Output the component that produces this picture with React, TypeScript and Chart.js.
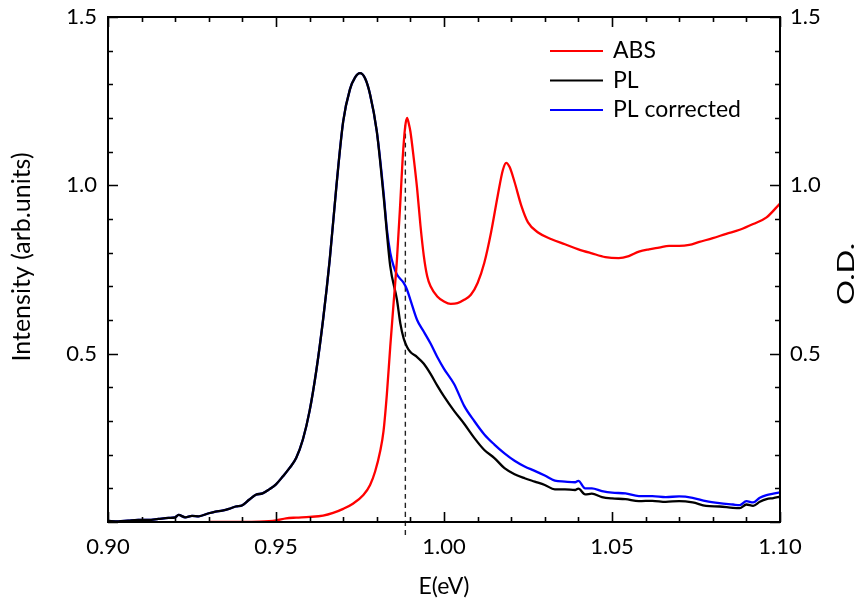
import React, { useEffect, useRef } from "react";
import { Chart, registerables } from "chart.js";

Chart.register(...registerables);

const FONT = "Lato, 'Open Sans', 'DejaVu Sans', sans-serif";

// ---- data ----
const plX = [
  0.900, 0.903, 0.906, 0.909, 0.912, 0.915, 0.918, 0.920, 0.921, 0.923, 0.925, 0.927, 0.930, 0.932,
  0.934, 0.936, 0.938, 0.940, 0.942, 0.944, 0.946, 0.948, 0.950, 0.952, 0.954, 0.956, 0.958, 0.960,
  0.962, 0.964, 0.966, 0.968, 0.970, 0.972, 0.9735, 0.975, 0.9765, 0.978, 0.980, 0.982, 0.984, 0.986,
  0.987, 0.988, 0.989, 0.990, 0.992, 0.994, 0.996, 0.998, 1.000, 1.003, 1.006, 1.009, 1.012, 1.015,
  1.018, 1.021, 1.024, 1.027, 1.030, 1.033, 1.036, 1.039, 1.040, 1.042, 1.044, 1.047, 1.050, 1.054,
  1.058, 1.062, 1.066, 1.070, 1.074, 1.078, 1.082, 1.086, 1.088, 1.090, 1.092, 1.094, 1.096, 1.098, 1.100,
];
const plY = [
  0.003, 0.002, 0.004, 0.006, 0.006, 0.009, 0.012, 0.014, 0.021, 0.014, 0.018, 0.017, 0.026, 0.031,
  0.034, 0.039, 0.046, 0.050, 0.066, 0.081, 0.085, 0.097, 0.112, 0.135, 0.160, 0.190, 0.245, 0.330,
  0.450, 0.600, 0.780, 1.000, 1.190, 1.285, 1.320, 1.333, 1.318, 1.270, 1.160, 0.970, 0.760, 0.660,
  0.590, 0.545, 0.520, 0.505, 0.490, 0.470, 0.440, 0.405, 0.373, 0.330, 0.292, 0.250, 0.214, 0.190,
  0.160, 0.142, 0.130, 0.120, 0.110, 0.097, 0.097, 0.095, 0.099, 0.082, 0.084, 0.074, 0.070, 0.068,
  0.062, 0.063, 0.060, 0.062, 0.058, 0.048, 0.046, 0.042, 0.041, 0.052, 0.048, 0.060, 0.068, 0.071, 0.075,
];

const plCorrX = [
  0.900, 0.903, 0.906, 0.909, 0.912, 0.915, 0.918, 0.920, 0.921, 0.923, 0.925, 0.927, 0.930, 0.932,
  0.934, 0.936, 0.938, 0.940, 0.942, 0.944, 0.946, 0.948, 0.950, 0.952, 0.954, 0.956, 0.958, 0.960,
  0.962, 0.964, 0.966, 0.968, 0.970, 0.972, 0.9735, 0.975, 0.9765, 0.978, 0.980, 0.982, 0.983, 0.984,
  0.985, 0.986, 0.988, 0.989, 0.990, 0.992, 0.994, 0.996, 0.998, 1.000, 1.003, 1.006, 1.009, 1.012,
  1.015, 1.018, 1.021, 1.024, 1.027, 1.030, 1.033, 1.036, 1.039, 1.040, 1.042, 1.044, 1.047, 1.050,
  1.054, 1.058, 1.062, 1.066, 1.070, 1.074, 1.078, 1.082, 1.086, 1.088, 1.090, 1.092, 1.094, 1.096,
  1.098, 1.100,
];
const plCorrY = [
  0.003, 0.002, 0.004, 0.006, 0.006, 0.009, 0.012, 0.014, 0.021, 0.014, 0.018, 0.017, 0.026, 0.031,
  0.034, 0.039, 0.046, 0.050, 0.066, 0.081, 0.085, 0.097, 0.112, 0.135, 0.160, 0.190, 0.245, 0.330,
  0.450, 0.600, 0.780, 1.000, 1.190, 1.285, 1.320, 1.333, 1.318, 1.270, 1.160, 0.980, 0.870, 0.800,
  0.760, 0.735, 0.710, 0.690, 0.660, 0.600, 0.565, 0.530, 0.490, 0.455, 0.410, 0.345, 0.300, 0.260,
  0.230, 0.204, 0.182, 0.165, 0.152, 0.138, 0.123, 0.120, 0.118, 0.122, 0.100, 0.100, 0.092, 0.087,
  0.085, 0.077, 0.077, 0.074, 0.076, 0.072, 0.062, 0.056, 0.052, 0.050, 0.062, 0.058, 0.072, 0.080,
  0.084, 0.088,
];

const absX = [
  0.930, 0.935, 0.940, 0.945, 0.950, 0.953, 0.956, 0.960, 0.964, 0.967, 0.970, 0.973, 0.976, 0.978,
  0.9795, 0.981, 0.982, 0.983, 0.984, 0.985, 0.986, 0.987, 0.9877, 0.9884, 0.989, 0.9896, 0.990,
  0.991, 0.992, 0.993, 0.994, 0.995, 0.996, 0.998, 1.000, 1.002, 1.004, 1.006, 1.008, 1.010, 1.012,
  1.014, 1.016, 1.0175, 1.0185, 1.0195, 1.021, 1.023, 1.025, 1.028, 1.032, 1.036, 1.040, 1.044,
  1.048, 1.052, 1.055, 1.058, 1.061, 1.064, 1.067, 1.070, 1.073, 1.076, 1.080, 1.084, 1.088, 1.092,
  1.096, 1.100,
];
const absY = [
  0.000, 0.000, 0.000, 0.001, 0.005, 0.011, 0.013, 0.015, 0.019, 0.027, 0.039, 0.055, 0.080, 0.110,
  0.150, 0.210, 0.270, 0.380, 0.520, 0.650, 0.780, 0.950, 1.080, 1.170, 1.200, 1.180, 1.160,
  1.080, 0.990, 0.880, 0.790, 0.730, 0.700, 0.670, 0.655, 0.648, 0.650, 0.660, 0.675, 0.710, 0.770,
  0.860, 0.970, 1.045, 1.067, 1.055, 1.010, 0.940, 0.890, 0.860, 0.840, 0.825, 0.810, 0.798,
  0.787, 0.784, 0.790, 0.803, 0.810, 0.815, 0.820, 0.820, 0.823, 0.832, 0.843, 0.856, 0.868, 0.885,
  0.905, 0.946,
];

// dashed marker line
const markerEnergy = 0.9885;
const markerTop = 1.18;
const markerBottom = -0.05;

// axes
const xMin = 0.9;
const xMax = 1.1;
const xStep = 0.05;
const yMin = 0;
const yMax = 1.5;
const yStep = 0.5;
const xTickLabels = ["0.90", "0.95", "1.00", "1.05", "1.10"];
const yTickLabels = ["", "0.5", "1.0", "1.5"];

const seriesLabels = ["ABS", "PL", "PL corrected"];
const seriesColors = ["#ff0000", "#000000", "#0000ff"];

const xTitle = "E(eV)";
const yTitle = "Intensity (arb.units)";
const y2Title = "O.D.";

const pts = (xs: number[], ys: number[]) => xs.map((x, i) => ({ x, y: ys[i] }));

export default function App() {
  const ref = useRef<HTMLCanvasElement>(null);

  useEffect(() => {
    document.body.style.margin = "0";
    const canvas = ref.current;
    if (!canvas) return;

    const framePlugin = {
      id: "frame",
      afterDraw(chart: any) {
        const { ctx, chartArea } = chart;
        const { left, right, top, bottom } = chartArea;
        const xs = chart.scales.x;
        const ys = chart.scales.y;
        ctx.save();
        ctx.strokeStyle = "#000";
        ctx.lineWidth = 1.6;
        for (let i = 0; i <= 20; i++) {
          const v = xMin + i * 0.01;
          const px = Math.round(xs.getPixelForValue(v)) + 0.5;
          const len = i % 5 === 0 ? 10 : 5;
          ctx.beginPath();
          ctx.moveTo(px, bottom);
          ctx.lineTo(px, bottom - len);
          ctx.moveTo(px, top);
          ctx.lineTo(px, top + len);
          ctx.stroke();
        }
        for (let i = 0; i <= 15; i++) {
          const v = yMin + i * 0.1;
          const py = Math.round(ys.getPixelForValue(v)) + 0.5;
          const len = i % 5 === 0 ? 10 : 5;
          ctx.beginPath();
          ctx.moveTo(left, py);
          ctx.lineTo(left + len, py);
          ctx.moveTo(right, py);
          ctx.lineTo(right - len, py);
          ctx.stroke();
        }
        ctx.lineWidth = 2;
        ctx.strokeRect(left, top, right - left, bottom - top);

        // vertical titles, both reading bottom to top
        ctx.fillStyle = "#000";
        ctx.textAlign = "center";
        ctx.textBaseline = "middle";
        ctx.font = `25px ${FONT}`;
        ctx.translate(22, 257);
        ctx.rotate(-Math.PI / 2);
        ctx.fillText(yTitle, 0, 0);
        ctx.setTransform(1, 0, 0, 1, 0, 0);

        ctx.font = `24px ${FONT}`;
        ctx.translate(846, 274);
        ctx.rotate(-Math.PI / 2);
        ctx.scale(1.3, 1);
        ctx.fillText(y2Title, 0, 0);
        ctx.setTransform(1, 0, 0, 1, 0, 0);

        // legend
        const items = chart.data.datasets.filter((d: any) => d.label);
        ctx.font = `23px ${FONT}`;
        ctx.textAlign = "left";
        ctx.textBaseline = "middle";
        items.forEach((d: any, i: number) => {
          const y = 51 + i * 29.5;
          ctx.strokeStyle = d.borderColor;
          ctx.lineWidth = 2;
          ctx.beginPath();
          ctx.moveTo(550, y);
          ctx.lineTo(603, y);
          ctx.stroke();
          ctx.fillStyle = "#000";
          ctx.fillText(d.label, 613, y);
        });
        ctx.restore();
      },
    };

    const noPad = (s: any) => {
      s.paddingTop = 0;
      s.paddingBottom = 0;
      s.paddingLeft = 0;
      s.paddingRight = 0;
    };

    const chart = new Chart(canvas, {
      type: "line",
      data: {
        datasets: [
          {
            label: seriesLabels[0],
            data: pts(absX, absY),
            borderColor: seriesColors[0],
            yAxisID: "y2",
          },
          {
            label: seriesLabels[1],
            data: pts(plX, plY),
            borderColor: seriesColors[1],
            yAxisID: "y",
          },
          {
            label: seriesLabels[2],
            data: pts(plCorrX, plCorrY),
            borderColor: seriesColors[2],
            yAxisID: "y",
          },
          {
            label: "",
            data: [
              { x: markerEnergy, y: markerTop },
              { x: markerEnergy, y: markerBottom },
            ],
            borderColor: "#222222",
            borderWidth: 1.4,
            borderDash: [5, 4],
            yAxisID: "y",
            clip: false as any,
          },
        ] as any,
      },
      options: {
        animation: false,
        responsive: true,
        maintainAspectRatio: false,
        layout: { padding: { top: 17, left: 0, right: 0, bottom: 0 } },
        elements: {
          point: { radius: 0 },
          line: { borderWidth: 2.3, cubicInterpolationMode: "monotone", fill: false },
        },
        plugins: { legend: { display: false }, tooltip: { enabled: false } },
        scales: {
          x: {
            type: "linear",
            position: "bottom",
            min: xMin,
            max: xMax,
            grid: { display: false, drawTicks: false },
            border: { display: false },
            ticks: {
              stepSize: xStep,
              autoSkip: false,
              maxRotation: 0,
              padding: 12,
              color: "#000",
              font: { family: FONT, size: 22 },
              callback: (_v: any, i: number) => xTickLabels[i] ?? "",
            },
            title: {
              display: true,
              text: xTitle,
              color: "#000",
              font: { family: FONT, size: 23 },
              padding: { top: 0, bottom: 11 },
            },
            afterFit: (s: any) => {
              s.height = 89;
              noPad(s);
            },
          },
          y: {
            type: "linear",
            position: "left",
            min: yMin,
            max: yMax,
            grid: { display: false, drawTicks: false },
            border: { display: false },
            ticks: {
              stepSize: yStep,
              padding: 11,
              color: "#000",
              font: { family: FONT, size: 22 },
              callback: (_v: any, i: number) => yTickLabels[i] ?? "",
            },
            afterFit: (s: any) => {
              s.width = 108;
              noPad(s);
            },
          },
          y2: {
            type: "linear",
            position: "right",
            min: yMin,
            max: yMax,
            grid: { display: false, drawTicks: false },
            border: { display: false },
            ticks: {
              stepSize: yStep,
              padding: 10,
              color: "#000",
              font: { family: FONT, size: 22 },
              callback: (_v: any, i: number) => yTickLabels[i] ?? "",
            },
            afterFit: (s: any) => {
              s.width = 79;
              noPad(s);
            },
          },
        },
      } as any,
      plugins: [framePlugin],
    });

    return () => chart.destroy();
  }, []);

  return (
    <div style={{ width: 859, height: 611, position: "relative" }}>
      <canvas ref={ref} />
    </div>
  );
}
